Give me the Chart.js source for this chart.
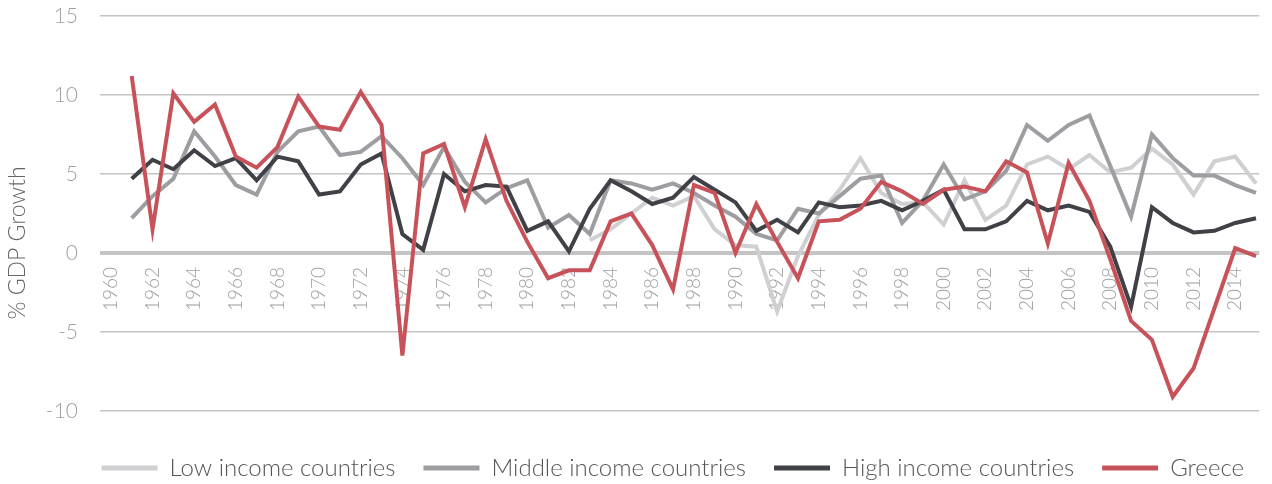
<!DOCTYPE html>
<html>
<head>
<meta charset="utf-8">
<script src="https://cdn.jsdelivr.net/npm/chart.js@4.4.1/dist/chart.umd.min.js"></script>
<style>
  html, body { margin: 0; padding: 0; background: #ffffff; }
  #wrap { position: relative; width: 1272px; height: 484px; }
</style>
</head>
<body>
<div id="wrap"><canvas id="c"></canvas></div>
<script>
const years = [1961,1962,1963,1964,1965,1966,1967,1968,1969,1970,
  1971,1972,1973,1974,1975,1976,1977,1978,1979,1980,
  1981,1982,1983,1984,1985,1986,1987,1988,1989,1990,
  1991,1992,1993,1994,1995,1996,1997,1998,1999,2000,
  2001,2002,2003,2004,2005,2006,2007,2008,2009,2010,
  2011,2012,2013,2014,2015];

const lowIncome = [null,null,null,null,null,null,null,null,null,null,
  null,null,null,null,null,null,null,null,null,null,
  null,null,0.8,1.5,2.5,3.5,3.0,3.6,1.5,0.5,
  0.4,-3.7,-0.2,2.4,4.0,6.0,3.8,3.1,3.2,1.8,
  4.6,2.1,3.0,5.6,6.1,5.3,6.2,5.1,5.4,6.6,
  5.6,3.7,5.8,6.1,4.4];

const middleIncome = [2.2,3.6,4.7,7.7,6.1,4.3,3.7,6.4,7.7,8.0,
  6.2,6.4,7.4,6.0,4.3,6.7,4.5,3.2,4.1,4.6,
  1.6,2.4,1.2,4.6,4.4,4.0,4.4,3.8,3.0,2.3,
  1.2,0.8,2.8,2.5,3.6,4.7,4.9,1.9,3.3,5.6,
  3.4,3.9,5.2,8.1,7.1,8.1,8.7,5.5,2.3,7.5,
  6.0,4.9,4.9,4.3,3.8];

const highIncome = [4.7,5.9,5.3,6.5,5.5,6.0,4.6,6.1,5.8,3.7,
  3.9,5.6,6.3,1.2,0.2,5.0,3.9,4.3,4.2,1.4,
  2.0,0.1,2.8,4.6,3.9,3.1,3.5,4.8,4.0,3.2,
  1.4,2.1,1.3,3.2,2.9,3.0,3.3,2.7,3.3,4.0,
  1.5,1.5,2.0,3.3,2.7,3.0,2.6,0.4,-3.4,2.9,
  1.9,1.3,1.4,1.9,2.2];

const greece = [11.2,1.5,10.1,8.3,9.4,6.1,5.4,6.7,9.9,8.0,
  7.8,10.2,8.1,-6.5,6.3,6.9,2.9,7.2,3.3,0.7,
  -1.6,-1.1,-1.1,2.0,2.5,0.5,-2.3,4.3,3.8,0.0,
  3.1,0.7,-1.6,2.0,2.1,2.8,4.5,3.9,3.1,4.0,
  4.2,3.9,5.8,5.1,0.6,5.7,3.3,-0.4,-4.3,-5.5,
  -9.1,-7.3,-3.5,0.3,-0.2];

const seriesNames = ['Low income countries', 'Middle income countries', 'High income countries', 'Greece'];
const yTicks = [-10, -5, 0, 5, 10, 15];
const yTitle = '% GDP Growth';

const FONT = 'Lato';
const toPoints = vals => years.map((yr, i) => ({ x: yr, y: vals[i] }));

const yTitlePlugin = {
  id: 'yTitle',
  afterDraw(chart) {
    const ctx = chart.ctx;
    ctx.save();
    ctx.translate(18, 243);
    ctx.rotate(-Math.PI / 2);
    ctx.font = '300 23px ' + FONT;
    ctx.fillStyle = '#666666';
    ctx.textAlign = 'center';
    ctx.textBaseline = 'middle';
    ctx.fillText(yTitle, 0, 0);
    ctx.restore();
  }
};

const mk = (label, vals, color, order) => ({
  label, data: toPoints(vals), borderColor: color, backgroundColor: color,
  borderWidth: 4, pointRadius: 0, pointHoverRadius: 0, tension: 0, fill: false,
  spanGaps: false, order
});

new Chart(document.getElementById('c'), {
  type: 'line',
  data: {
    datasets: [
      mk(seriesNames[0], lowIncome, '#d0d0d3', 3),
      mk(seriesNames[1], middleIncome, '#9d9da2', 2),
      mk(seriesNames[2], highIncome, '#3f4147', 1),
      mk(seriesNames[3], greece, '#c8525a', 0)
    ]
  },
  options: {
    responsive: true,
    maintainAspectRatio: false,
    animation: false,
    layout: { padding: { top: 16, right: 0, bottom: -6, left: 0 } },
    plugins: {
      tooltip: { enabled: false },
      legend: {
        position: 'bottom',
        align: 'end',
        labels: {
          boxWidth: 56,
          boxHeight: 5,
          padding: 28,
          color: '#555555',
          font: { family: FONT, size: 24, weight: '300' },
          sort: (a, b) => a.datasetIndex - b.datasetIndex,
          generateLabels: (chart) => Chart.defaults.plugins.legend.labels.generateLabels(chart)
            .map(l => Object.assign(l, { lineWidth: 0, fillStyle: l.strokeStyle }))
        }
      }
    },
    scales: {
      x: {
        type: 'linear',
        position: { y: 0 },
        min: 1959.477,
        max: 2015.155,
        grid: { display: false, drawTicks: false },
        border: { display: false },
        ticks: {
          stepSize: 2,
          includeBounds: false,
          autoSkip: false,
          minRotation: 90,
          maxRotation: 90,
          padding: 14,
          color: '#a0a0a0',
          font: { family: FONT, size: 19, weight: '300' },
          callback: v => String(v)
        }
      },
      y: {
        min: -11.08,
        max: 15,
        afterFit: s => { s.width = 100; },
        afterBuildTicks: s => { s.ticks = yTicks.map(v => ({ value: v })); },
        grid: {
          drawTicks: true,
          tickLength: 22,
          tickColor: 'rgba(0,0,0,0)',
          color: '#c4c4c4',
          lineWidth: ctx => ctx.tick && ctx.tick.value === 0 ? 4 : 1.5
        },
        border: { display: false },
        ticks: {
          padding: 0,
          color: '#a0a0a0',
          font: { family: FONT, size: 21, weight: '300' }
        }
      }
    }
  },
  plugins: [yTitlePlugin]
});
</script>
</body>
</html>
